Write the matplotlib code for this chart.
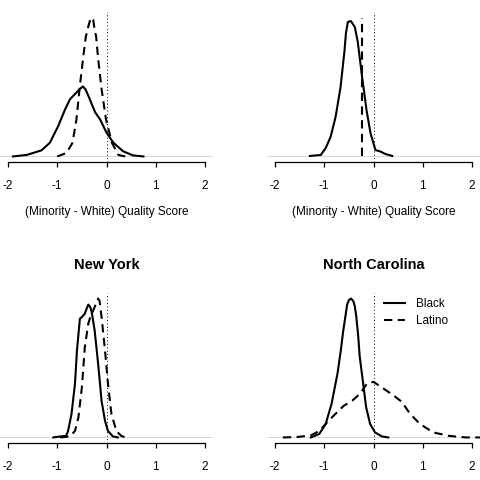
import matplotlib
matplotlib.use("Agg")
import matplotlib.pyplot as plt
from matplotlib.lines import Line2D

plt.rcParams['font.family'] = ['Liberation Sans', 'DejaVu Sans']
plt.rcParams['axes.unicode_minus'] = False

# ---------------- data (density curves) ----------------
tick_values = [-2, -1, 0, 1, 2]
tick_labels = ["-2", "-1", "0", "1", "2"]
xlabel_text = "(Minority - White) Quality Score"
series_names = ["Black", "Latino"]

tl_black_x = [-1.90, -1.62, -1.32, -1.15, -0.98, -0.84, -0.74, -0.60, -0.53, -0.48, -0.43, -0.37, -0.23, -0.13, 0.00, 0.14, 0.34, 0.54, 0.75]
tl_black_y = [0.00, 0.03, 0.12, 0.27, 0.60, 0.93, 1.13, 1.27, 1.34, 1.38, 1.33, 1.20, 0.87, 0.73, 0.47, 0.27, 0.10, 0.02, 0.00]
tl_latino_x = [-1.00, -0.81, -0.69, -0.61, -0.54, -0.46, -0.42, -0.37, -0.33, -0.30, -0.27, -0.25, -0.21, -0.17, -0.10, -0.01, 0.11, 0.24, 0.38]
tl_latino_y = [0.00, 0.07, 0.27, 0.73, 1.40, 2.06, 2.36, 2.56, 2.70, 2.74, 2.70, 2.56, 2.36, 1.93, 1.33, 0.73, 0.27, 0.03, 0.00]

tr_black_x = [-1.29, -1.07, -0.97, -0.87, -0.77, -0.67, -0.59, -0.56, -0.52, -0.46, -0.38, -0.32, -0.23, -0.14, -0.06, 0.04, 0.14, 0.24, 0.38]
tr_black_y = [0.01, 0.03, 0.17, 0.40, 0.80, 1.40, 2.13, 2.50, 2.73, 2.75, 2.63, 2.33, 1.60, 0.93, 0.47, 0.13, 0.10, 0.05, 0.01]
tr_latino_x = [-0.23, -0.23]
tr_latino_y = [0.00, 2.82]

ny_black_x = [-1.08, -0.94, -0.82, -0.78, -0.71, -0.64, -0.60, -0.54, -0.49, -0.44, -0.41, -0.37, -0.33, -0.30, -0.24, -0.17, -0.10, -0.03, 0.03, 0.13, 0.23]
ny_black_y = [0.00, 0.02, 0.03, 0.13, 0.47, 1.07, 1.73, 2.37, 2.41, 2.47, 2.55, 2.65, 2.60, 2.50, 2.13, 1.47, 0.73, 0.33, 0.13, 0.02, 0.00]
ny_latino_x = [-0.94, -0.74, -0.64, -0.57, -0.50, -0.44, -0.37, -0.32, -0.27, -0.20, -0.17, -0.14, -0.10, -0.03, 0.03, 0.10, 0.20, 0.30, 0.39]
ny_latino_y = [0.00, 0.02, 0.13, 0.40, 1.00, 1.80, 2.27, 2.43, 2.53, 2.70, 2.77, 2.72, 2.40, 1.73, 1.07, 0.47, 0.13, 0.03, 0.00]

nc_black_x = [-1.27, -1.10, -0.97, -0.85, -0.73, -0.66, -0.62, -0.57, -0.535, -0.50, -0.455, -0.41, -0.38, -0.35, -0.31, -0.28, -0.21, -0.15, -0.07, 0.03, 0.17, 0.30]
nc_black_y = [0.00, 0.07, 0.27, 0.67, 1.27, 1.75, 2.07, 2.40, 2.63, 2.72, 2.75, 2.70, 2.60, 2.40, 2.00, 1.60, 1.07, 0.60, 0.27, 0.10, 0.02, 0.00]
nc_latino_x = [-1.84, -1.54, -1.27, -1.10, -0.94, -0.77, -0.60, -0.43, -0.27, -0.13, 0.00, 0.20, 0.41, 0.58, 0.74, 0.94, 1.21, 1.54, 1.88, 2.25]
nc_latino_y = [0.00, 0.01, 0.04, 0.13, 0.30, 0.47, 0.63, 0.73, 0.87, 1.07, 1.10, 0.97, 0.83, 0.70, 0.47, 0.27, 0.10, 0.03, 0.00, 0.00]

panel_titles = ["", "", "New York", "North Carolina"]

# ---------------- layout ----------------
W = H = 480.0
fig = plt.figure(figsize=(4.8, 4.8), dpi=100)

def px_axes(left, top, right, bottom):
    return fig.add_axes([left / W, 1 - bottom / H, (right - left) / W, (bottom - top) / H])

panels = [
    dict(box=(0.1, 12, 212.9, 162), bx=tl_black_x, by=tl_black_y, lx=tl_latino_x, ly=tl_latino_y,
         title=panel_titles[0], xlabel=True, legend=False),
    dict(box=(267.1, 12, 479.9, 162), bx=tr_black_x, by=tr_black_y, lx=tr_latino_x, ly=tr_latino_y,
         title=panel_titles[1], xlabel=True, legend=False),
    dict(box=(0.1, 293, 212.9, 443), bx=ny_black_x, by=ny_black_y, lx=ny_latino_x, ly=ny_latino_y,
         title=panel_titles[2], xlabel=False, legend=False),
    dict(box=(267.1, 293, 479.9, 443), bx=nc_black_x, by=nc_black_y, lx=nc_latino_x, ly=nc_latino_y,
         title=panel_titles[3], xlabel=False, legend=True),
]

dash = (4.0, 2.6)
for p in panels:
    l, t, r, b = p['box']
    ax = px_axes(l, t, r, b)
    ymax = max(max(p['by']), max(p['ly']))
    ax.set_xlim(-2.16, 2.16)
    ax.set_ylim(-0.04 * ymax, 1.04 * ymax)
    ax.axhline(0, color='#c8c8c8', lw=0.5, zorder=1)
    ax.plot(p['bx'], p['by'], color='black', lw=1.5, solid_joinstyle='round', zorder=3)
    ax.plot(p['lx'], p['ly'], color='black', lw=1.5, dashes=dash, zorder=3)
    ax.axvline(0, color='black', lw=0.7, linestyle=(0, (1, 2.5)), zorder=2)
    for s in ['top', 'right', 'left']:
        ax.spines[s].set_visible(False)
    ax.spines['bottom'].set_bounds(-2, 2)
    ax.spines['bottom'].set_linewidth(0.9)
    ax.set_yticks([])
    ax.set_xticks(tick_values)
    ax.set_xticklabels(tick_labels)
    ax.tick_params(axis='x', direction='out', length=3.8, width=0.9, pad=9.0, labelsize=8.5)
    ax.patch.set_visible(False)
    cx = (l + r) / 2
    if p['xlabel']:
        fig.text(cx / W, 1 - 212 / H, xlabel_text, ha='center', va='center', fontsize=8.5)
    if p['title']:
        fig.text(cx / W, 1 - 265 / H, p['title'], ha='center', va='center', fontsize=10.5, fontweight='bold')
    if p['legend']:
        handles = [Line2D([], [], color='black', lw=1.5),
                   Line2D([], [], color='black', lw=1.5, dashes=dash)]
        fig.legend(handles, series_names, loc='upper left',
                   bbox_to_anchor=(384 / W, 1 - 298 / H), bbox_transform=fig.transFigure,
                   frameon=False, fontsize=8.5, handlelength=1.75, handletextpad=0.95,
                   labelspacing=0.42, borderpad=0, borderaxespad=0)

fig.savefig("out.png", dpi=100)
